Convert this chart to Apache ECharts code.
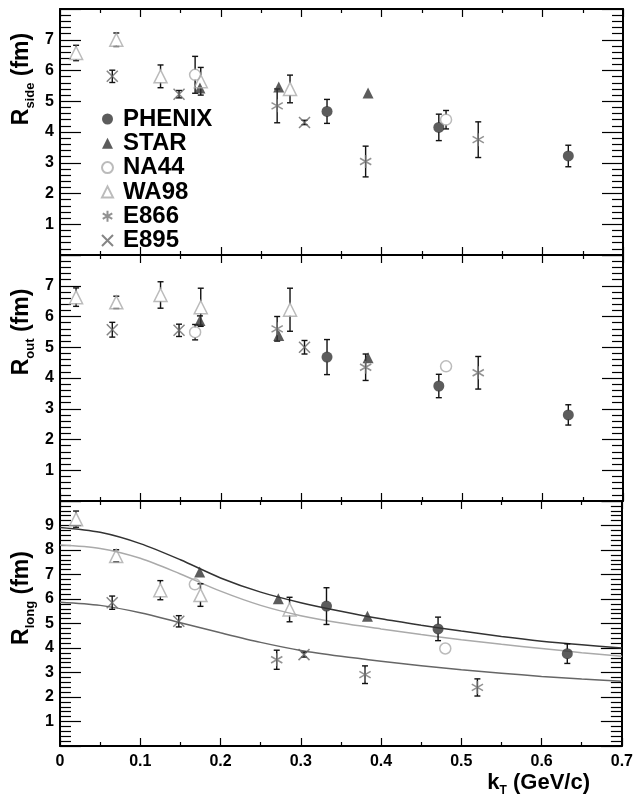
<!DOCTYPE html>
<html><head><meta charset="utf-8">
<script src="https://cdn.jsdelivr.net/npm/echarts@6/dist/echarts.min.js"></script>
<style>html,body{margin:0;padding:0;background:#fff}#c{width:636px;height:797px}</style>
</head><body><div id="c"></div>
<script>
// ---------- data ----------
const xTicks = [0, 0.1, 0.2, 0.3, 0.4, 0.5, 0.6, 0.7];
const panelNames = ['side', 'out', 'long'];
const panelMax = [8, 8, 10];

const kT_PHENIX = [0.332, 0.471, 0.632];
const side_PHENIX = [4.67, 4.15, 3.22];   const sideErr_PHENIX = [0.39, 0.43, 0.35];
const out_PHENIX = [4.68, 3.74, 2.80];    const outErr_PHENIX = [0.57, 0.38, 0.33];
const long_PHENIX = [5.71, 4.78, 3.77];   const longErr_PHENIX = [0.75, 0.48, 0.40];

const kT_STAR = [0.174, 0.272, 0.383];
const side_STAR = [5.43, 5.46, 5.27];     const sideErr_STAR = [0.12, 0.10, 0.05];
const out_STAR = [5.87, 5.38, 4.66];      const outErr_STAR = [0.15, 0.10, 0.10];
const long_STAR = [7.10, 6.01, 5.30];     const longErr_STAR = [0.10, 0.10, 0.10];

const kT_NA44 = [0.168, 0.480];
const side_NA44 = [5.86, 4.40];           const sideErr_NA44 = [0.60, 0.30];
const out_NA44 = [5.49, 4.38];            const outErr_NA44 = [0.25, 0.10];
const long_NA44 = [6.60, 3.98];           const longErr_NA44 = [0.20, 0.10];

const kT_WA98 = [0.020, 0.070, 0.125, 0.175, 0.286];
const side_WA98 = [6.57, 7.00, 5.81, 5.65, 5.40]; const sideErr_WA98 = [0.25, 0.22, 0.37, 0.45, 0.45];
const out_WA98 = [6.63, 6.46, 6.70, 6.30, 6.22];  const outErr_WA98 = [0.30, 0.20, 0.43, 0.62, 0.70];
const long_WA98 = [9.26, 7.76, 6.36, 6.16, 5.57]; const longErr_WA98 = [0.33, 0.25, 0.39, 0.46, 0.50];

const kT_E866 = [0.270, 0.380, 0.520];
const side_E866 = [4.85, 3.04, 3.75];     const sideErr_E866 = [0.55, 0.50, 0.58];
const out_E866 = [5.60, 4.35, 4.17];      const outErr_E866 = [0.40, 0.43, 0.53];
const long_E866 = [3.52, 2.91, 2.39];     const longErr_E866 = [0.39, 0.36, 0.35];

const kT_E895 = [0.065, 0.148, 0.304];
const side_E895 = [5.81, 5.23, 4.31];     const sideErr_E895 = [0.20, 0.12, 0.07];
const out_E895 = [5.57, 5.55, 5.00];      const outErr_E895 = [0.24, 0.20, 0.22];
const long_E895 = [5.85, 5.09, 3.73];     const longErr_E895 = [0.27, 0.23, 0.10];

// fit curves in the R_long panel (read every 0.05 in kT)
const kT_curve   = [0, 0.05, 0.10, 0.15, 0.20, 0.25, 0.30, 0.35, 0.40, 0.45, 0.50, 0.55, 0.60, 0.65, 0.70];
const curveDark  = [8.92, 8.72, 8.26, 7.60, 6.86, 6.28, 5.85, 5.50, 5.19, 4.93, 4.69, 4.47, 4.28, 4.13, 4.00];
const curveLight = [8.20, 8.06, 7.66, 7.02, 6.32, 5.74, 5.32, 5.02, 4.78, 4.55, 4.34, 4.15, 3.98, 3.81, 3.66];
const curveMid   = [5.87, 5.74, 5.44, 5.03, 4.62, 4.23, 3.90, 3.66, 3.46, 3.28, 3.11, 2.97, 2.84, 2.73, 2.64];

// ---------- styling ----------
const FONT = 'Liberation Sans';
const experiments = {
  PHENIX: {kT: kT_PHENIX, v: [side_PHENIX, out_PHENIX, long_PHENIX], e: [sideErr_PHENIX, outErr_PHENIX, longErr_PHENIX],
           symbol: 'circle', size: 11, gap: 4.5, item: {color: '#333'}},
  STAR:   {kT: kT_STAR, v: [side_STAR, out_STAR, long_STAR], e: [sideErr_STAR, outErr_STAR, longErr_STAR],
           symbol: 'triangle', size: 11, gap: 4.5, item: {color: '#333'}},
  NA44:   {kT: kT_NA44, v: [side_NA44, out_NA44, long_NA44], e: [sideErr_NA44, outErr_NA44, longErr_NA44],
           symbol: 'circle', size: 11, gap: 5, item: {color: 'rgba(255,255,255,0)', borderColor: '#aaa', borderWidth: 1.5}},
  WA98:   {kT: kT_WA98, v: [side_WA98, out_WA98, long_WA98], e: [sideErr_WA98, outErr_WA98, longErr_WA98],
           symbol: 'triangle', size: 13, gap: 6, item: {color: 'rgba(255,255,255,0)', borderColor: '#aaa', borderWidth: 1.5}},
  E866:   {kT: kT_E866, v: [side_E866, out_E866, long_E866], e: [sideErr_E866, outErr_E866, longErr_E866],
           symbol: 'path://M0,-6L0,6M-5.2,-3L5.2,3M-5.2,3L5.2,-3', size: 13, gap: 0, item: {color: 'rgba(0,0,0,0)', borderColor: '#777', borderWidth: 1.5}},
  E895:   {kT: kT_E895, v: [side_E895, out_E895, long_E895], e: [sideErr_E895, outErr_E895, longErr_E895],
           symbol: 'path://M-5,-5L5,5M-5,5L5,-5', size: 11, gap: 0, item: {color: 'rgba(0,0,0,0)', borderColor: '#666', borderWidth: 1.5}}
};

const gridTop = [9, 255, 501];
const gridH = [246, 246, 245];
const grids = gridTop.map((t, i) => ({left: 60, top: t, width: 563, height: gridH[i]}));

const xAxes = [], yAxes = [];
for (let i = 0; i < 3; i++) {
  ['bottom', 'top'].forEach(pos => {
    xAxes.push({
      gridIndex: i, type: 'value', position: pos, min: 0, max: 0.7, interval: 0.1,
      axisLine: {show: true, onZero: false, lineStyle: {color: '#000', width: 2}},
      axisTick: {inside: true, length: 8, lineStyle: {color: '#000', width: 1.2}},
      minorTick: {show: true, splitNumber: 2, length: 4, lineStyle: {color: '#000', width: 1.2}},
      splitLine: {show: false}, minorSplitLine: {show: false},
      axisLabel: {show: i === 2 && pos === 'bottom', margin: 8, fontFamily: FONT, fontWeight: 'bold', fontSize: 16, color: '#000',
        formatter: v => { const r = Math.round(v * 10) / 10; return xTicks.indexOf(r) >= 0 ? (r === 0 ? '0' : r.toFixed(1)) : ''; }}
    });
  });
  ['left', 'right'].forEach(pos => {
    yAxes.push({
      gridIndex: i, type: 'value', position: pos, min: 0, max: panelMax[i], interval: 1,
      axisLine: {show: true, onZero: false, lineStyle: {color: '#000', width: 2}},
      axisTick: {inside: true, length: 21, lineStyle: {color: '#000', width: 1.2}},
      minorTick: {show: true, splitNumber: 5, length: 11, lineStyle: {color: '#000', width: 1.2}},
      splitLine: {show: false}, minorSplitLine: {show: false},
      axisLabel: {show: pos === 'left', margin: 6, fontFamily: FONT, fontWeight: 'bold', fontSize: 16, color: '#000',
        formatter: v => (v === 0 || v === panelMax[i]) ? '' : String(v)}
    });
  });
}

const series = [];
// curves
[[curveDark, '#333'], [curveLight, '#aaa'], [curveMid, '#666']].forEach(([arr, col]) => {
  series.push({type: 'line', xAxisIndex: 4, yAxisIndex: 4, data: kT_curve.map((k, j) => [k, arr[j]]),
    showSymbol: false, smooth: 0.3, lineStyle: {color: col, width: 1.5}, z: 1, silent: true});
});

function errRender(gap) {
  return function (params, api) {
    const x = api.value(0), y = api.value(1), e = api.value(2);
    const c = api.coord([x, y]);
    const top = api.coord([x, y + e])[1], bot = api.coord([x, y - e])[1];
    const st = {stroke: '#111', lineWidth: 1.4};
    const ch = [];
    if (c[1] - gap > top) {
      ch.push({type: 'line', shape: {x1: c[0], y1: c[1] - gap, x2: c[0], y2: top}, style: st});
      ch.push({type: 'line', shape: {x1: c[0] - 3, y1: top, x2: c[0] + 3, y2: top}, style: st});
    }
    if (c[1] + gap < bot) {
      ch.push({type: 'line', shape: {x1: c[0], y1: c[1] + gap, x2: c[0], y2: bot}, style: st});
      ch.push({type: 'line', shape: {x1: c[0] - 3, y1: bot, x2: c[0] + 3, y2: bot}, style: st});
    }
    return {type: 'group', children: ch};
  };
}

Object.keys(experiments).forEach(name => {
  const ex = experiments[name];
  for (let p = 0; p < 3; p++) {
    series.push({type: 'custom', xAxisIndex: 2 * p, yAxisIndex: 2 * p, renderItem: errRender(ex.gap),
      data: ex.kT.map((k, j) => [k, ex.v[p][j], ex.e[p][j]]), z: 2, silent: true});
    series.push({type: 'scatter', name: name, xAxisIndex: 2 * p, yAxisIndex: 2 * p,
      symbol: ex.symbol, symbolSize: ex.size, symbolKeepAspect: true, itemStyle: ex.item,
      data: ex.kT.map((k, j) => [k, ex.v[p][j]]), z: 3});
  }
});

const richY = {
  b: {fontFamily: FONT, fontWeight: 'bold', fontSize: 23, color: '#000', lineHeight: 30, verticalAlign: 'middle'},
  s: {fontFamily: FONT, fontWeight: 'bold', fontSize: 13, color: '#000', lineHeight: 30, verticalAlign: 'bottom'}
};
const yTitleCenters = [79, 332, 598];
const graphic = panelNames.map((n, i) => ({
  type: 'text', x: 22, y: yTitleCenters[i], rotation: Math.PI / 2,
  style: {text: '{b|R}{s|' + n + '}{b| (fm)}', rich: richY, align: 'center', verticalAlign: 'middle'}
}));
graphic.push({
  type: 'text', x: 590, y: 783,
  style: {text: '{b|k}{s|T}{b| (GeV/c)}', rich: {
    b: {fontFamily: FONT, fontWeight: 'bold', fontSize: 22, color: '#000', lineHeight: 28, verticalAlign: 'middle'},
    s: {fontFamily: FONT, fontWeight: 'bold', fontSize: 12, color: '#000', lineHeight: 28, verticalAlign: 'bottom'}},
    align: 'right', verticalAlign: 'middle'}
});

const chart = echarts.init(document.getElementById('c'), null, {renderer: 'canvas'});
chart.setOption({
  animation: false,
  backgroundColor: '#fff',
  grid: grids,
  xAxis: xAxes,
  yAxis: yAxes,
  legend: {
    data: Object.keys(experiments), orient: 'vertical', left: 101, top: 107, padding: 0,
    itemWidth: 11, itemHeight: 11, itemGap: 0.3, selectedMode: false,
    textStyle: {fontFamily: FONT, fontWeight: 'bold', fontSize: 24, color: '#000', lineHeight: 22, padding: [0, 0, 0, 5]}
  },
  graphic: graphic,
  series: series
});
</script>
</body></html>
